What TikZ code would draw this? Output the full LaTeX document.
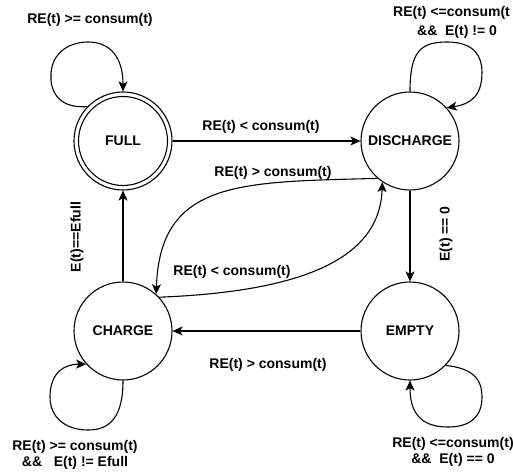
\documentclass[tikz,border=0pt]{standalone}
\usepackage{fontspec}
\setmainfont{Liberation Sans}
\usetikzlibrary{arrows.meta}
\begin{document}
\begin{tikzpicture}[x=1pt,y=1pt,
  every node/.style={font=\bfseries\fontsize{14}{16}\selectfont, inner sep=0pt},
  state/.style={circle, draw, line width=1.1pt, minimum size=98pt},
  conn/.style={line width=1.1pt, -{Stealth[length=10pt,width=9pt,inset=2.5pt]}},
  lbl/.style={align=center}]
\useasboundingbox (0,0) rectangle (513,472);

\node[state] (full) at (123,331) {FULL};
\draw[line width=1.1pt] (full.center) circle (44.5);
\node[state] (dis) at (410,331) {DISCHARGE};
\node[state] (chg) at (123,141) {CHARGE};
\node[state] (emp) at (410,141) {EMPTY};

% straight transitions
\draw[conn] (full) -- (dis);
\draw[conn] (dis) -- (emp);
\draw[conn] (emp) -- (chg);
\draw[conn] (chg) -- (full);

% curved transitions
\draw[conn] (dis.229) .. controls (240,290) and (160,292) .. (chg.48);
\draw[conn] (chg.43) .. controls (290,180) and (380,208) .. (dis.236);

% self loops
\draw[conn] (full.136) .. controls (55,363) and (50,385) .. (51,398)
  .. controls (52,420) and (70,430) .. (88,430)
  .. controls (110,430) and (123,415) .. (full.90);
\draw[conn] (dis.90) .. controls (410,420) and (420,430) .. (447,430)
  .. controls (475,430) and (482,415) .. (482,400)
  .. controls (482,375) and (470,368) .. (dis.42);
\draw[conn] (chg.270) .. controls (123,55) and (110,42) .. (88,42)
  .. controls (65,42) and (50,55) .. (50,75)
  .. controls (50,100) and (65,108) .. (chg.222);
\draw[conn] (emp.316) .. controls (470,104) and (482,95) .. (482,75)
  .. controls (482,55) and (470,45) .. (448,45)
  .. controls (420,45) and (410,60) .. (emp.270);

% labels
\node (l1) at (90,452) {RE(t) >= consum(t)};
\node[anchor=west] (l2a) at (393,459) {RE(t) <=consum(t};
\node (l2b) at (457,440) {\&\&\ \ E(t) != 0};
\node (l3) at (261,345) {RE(t) < consum(t)};
\node (l4) at (273,299) {RE(t) > consum(t)};
\node (l5) at (232,200) {RE(t) < consum(t)};
\node (l6) at (268,107) {RE(t) > consum(t)};
\node[rotate=90] (l7) at (77,235) {E(t)==Efull};
\node[rotate=90] (l8) at (446,238) {E(t) == 0};
\node[lbl] (l9) at (75,17) {RE(t) >= consum(t)\\\&\&\ \ \ E(t) != Efull};
\node[lbl] (l10) at (453,20) {RE(t) <=consum(t)\\\&\&\ \ E(t) == 0};
\end{tikzpicture}
\end{document}
